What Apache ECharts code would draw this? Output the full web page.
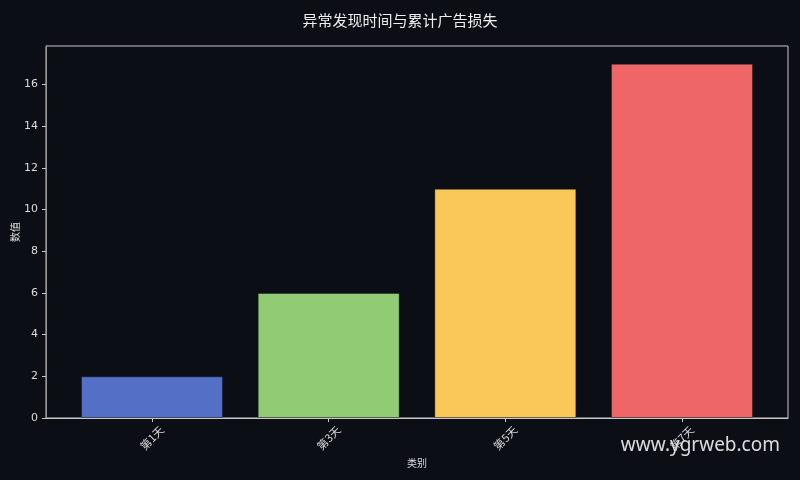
<!DOCTYPE html>
<html><head><meta charset="utf-8">
<script src="https://cdn.jsdelivr.net/npm/echarts@6/dist/echarts.min.js"></script>
<style>html,body{margin:0;padding:0;background:#0b0e15;}#c{width:800px;height:480px;}</style>
</head><body><div id="c"></div>
<script>
const title = '异常发现时间与累计广告损失';
const categories = ['第1天', '第3天', '第5天', '第7天'];
const values = [2, 6, 11, 17];
const colors = ['#5470c6', '#91cc75', '#fac858', '#ee6666'];
const yTicks = [0, 2, 4, 6, 8, 10, 12, 14, 16];

const chart = echarts.init(document.getElementById('c'));
const font = '"Noto Sans CJK SC", "DejaVu Sans", sans-serif';
chart.setOption({
  backgroundColor: '#0b0e15',
  animation: false,
  title: { text: title, left: 'center', top: 8,
    textStyle: { color: '#eeeeee', fontSize: 15, fontWeight: 'normal', fontFamily: font } },
  grid: { left: 46, right: 12, top: 46, bottom: 62, containLabel: false, outerBoundsMode: 'none',
    show: true, borderColor: '#c8c8c8', borderWidth: 1, backgroundColor: 'transparent' },
  xAxis: {
    type: 'value', min: -0.6, max: 3.6,
    name: '类别', nameLocation: 'middle', nameGap: 40, nameMoveOverlap: false,
    nameTextStyle: { color: '#dddddd', fontSize: 10, fontFamily: font },
    axisLine: { show: true, onZero: false, lineStyle: { color: '#c8c8c8' } },
    axisTick: { show: true, customValues: [0, 1, 2, 3], length: 4, lineStyle: { color: '#c8c8c8' } },
    axisLabel: { customValues: [0, 1, 2, 3], rotate: 45, align: 'center', verticalAlign: 'middle',
      color: '#dddddd', fontSize: 11, fontFamily: font, margin: 20,
      formatter: v => categories[Math.round(v)] },
    splitLine: { show: false }
  },
  yAxis: {
    type: 'value', min: 0, max: 17.85,
    name: '数值', nameLocation: 'middle', nameGap: 26, nameRotate: 90, nameMoveOverlap: false,
    nameTextStyle: { color: '#dddddd', fontSize: 10, fontFamily: font },
    axisLine: { show: true, onZero: false, lineStyle: { color: '#999999' } },
    axisTick: { show: true, customValues: yTicks, length: 4, lineStyle: { color: '#c8c8c8' } },
    axisLabel: { customValues: yTicks, color: '#dddddd', fontSize: 11, fontFamily: '"DejaVu Sans", sans-serif', margin: 8 },
    splitLine: { show: false }
  },
  series: [{
    type: 'bar',
    barWidth: 142,
    data: values.map((v, i) => ({ value: [i, v], itemStyle: { color: colors[i], borderColor: 'rgba(11,14,21,0.4)', borderWidth: 1 } }))
  }],
  graphic: [{
    type: 'text', right: 20, top: 436,
    style: { text: 'www.ygrweb.com', fill: 'rgba(255,255,255,0.85)', font: '19px "Noto Sans", sans-serif' }
  }]
});
</script></body></html>
